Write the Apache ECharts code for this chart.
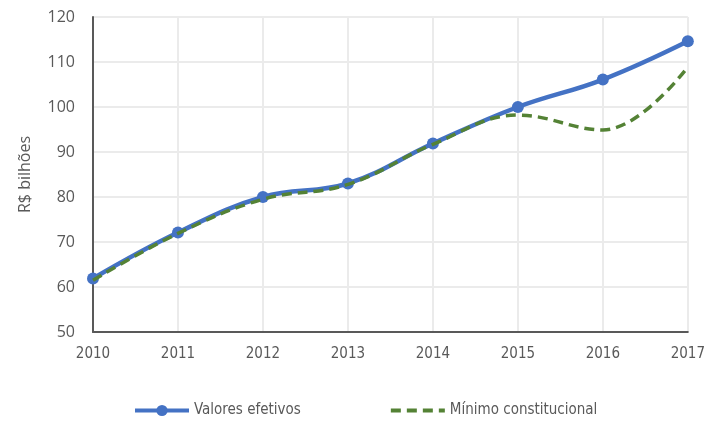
<!DOCTYPE html>
<html><head><meta charset="utf-8">
<script src="https://cdn.jsdelivr.net/npm/echarts@6/dist/echarts.min.js"></script>
<style>html,body{margin:0;padding:0;background:#fff}#c{width:708px;height:425px}</style>
</head><body><div id="c"></div>
<script>
const categories = ['2010','2011','2012','2013','2014','2015','2016','2017'];
const valoresEfetivos = [61.9, 72.1, 80.0, 83.0, 91.9, 100.0, 106.1, 114.6];
const minimoConstitucional = [61.5, 71.9, 79.5, 82.8, 91.7, 98.2, 94.9, 108.9];
const yTicks = {min: 50, max: 120, interval: 10};

const chart = echarts.init(document.getElementById('c'), null, {renderer: 'canvas'});
const narrow = '"Liberation Sans Narrow", "DejaVu Sans Condensed", "Liberation Sans", sans-serif';
const sans = '"Open Sans", "Liberation Sans", sans-serif';
chart.setOption({
  animation: false,
  grid: {left: 93, right: 17, top: 17, bottom: 93, containLabel: false},
  legend: {
    bottom: 2, left: 128, itemWidth: 54, itemHeight: 14, itemGap: 88,
    textStyle: {color: '#595959', fontSize: 15, fontFamily: narrow},
    data: [
      {name: 'Valores efetivos', lineStyle: {width: 4}},
      {name: 'Mínimo constitucional', itemStyle: {opacity: 0}, lineStyle: {width: 4}}
    ]
  },
  xAxis: {
    type: 'category', data: categories, boundaryGap: false,
    axisLine: {show: true, lineStyle: {color: '#595959', width: 2}},
    axisTick: {show: false},
    axisLabel: {color: '#595959', fontSize: 15, fontFamily: narrow, margin: 15},
    splitLine: {show: true, lineStyle: {color: '#ebebeb', width: 2}}
  },
  yAxis: {
    type: 'value', min: yTicks.min, max: yTicks.max, interval: yTicks.interval,
    name: 'R$ bilhões', nameLocation: 'middle', nameGap: 60, nameRotate: 90,
    nameTextStyle: {color: '#595959', fontSize: 16, fontFamily: sans},
    axisLine: {show: true, lineStyle: {color: '#595959', width: 2}},
    axisTick: {show: false},
    axisLabel: {color: '#595959', fontSize: 16, fontFamily: sans, margin: 18},
    splitLine: {show: true, lineStyle: {color: '#ebebeb', width: 2}}
  },
  series: [
    {
      name: 'Valores efetivos', type: 'line', data: valoresEfetivos, smooth: 0.4,
      symbol: 'circle', symbolSize: 12,
      lineStyle: {color: '#4472C4', width: 4.5},
      itemStyle: {color: '#4472C4'}, z: 3
    },
    {
      name: 'Mínimo constitucional', type: 'line', data: minimoConstitucional, smooth: 0.4,
      symbol: 'none',
      lineStyle: {color: '#548235', width: 3.5, type: [10, 6]},
      itemStyle: {color: '#548235'}, z: 4
    }
  ]
});
</script></body></html>
